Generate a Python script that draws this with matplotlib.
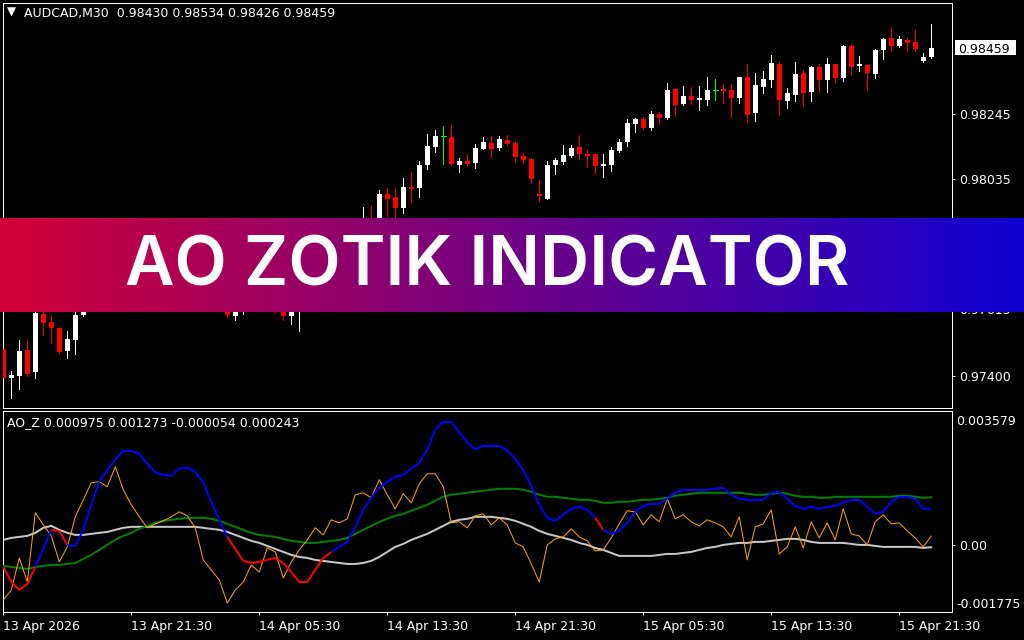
import numpy as np
import matplotlib
matplotlib.use('Agg')
import matplotlib.pyplot as plt
from matplotlib.collections import LineCollection
from matplotlib.patches import Rectangle

# AUDCAD M30 candles (13 Apr 2026 13:30 ... 15 Apr 23:30)
opens = [0.97486, 0.97392, 0.97399, 0.97482, 0.97411, 0.97599, 0.97573, 0.97554, 0.97479, 0.97515,
         0.97596, 0.97692, 0.97767, 0.97741, 0.97822, 0.97844, 0.97812, 0.97838, 0.97864, 0.97822,
         0.97851, 0.97806, 0.97767, 0.97786, 0.97725, 0.97747, 0.97692, 0.97660, 0.97644, 0.97592,
         0.97605, 0.97628, 0.97644, 0.97657, 0.97631, 0.97625, 0.97592, 0.97612, 0.97644, 0.97692,
         0.97741, 0.97767, 0.97806, 0.97786, 0.97838, 0.97870, 0.97896, 0.97890, 0.97986, 0.97977,
         0.97941, 0.98009, 0.98006, 0.98080, 0.98138, 0.98174, 0.98171, 0.98080, 0.98093, 0.98086,
         0.98132, 0.98151, 0.98135, 0.98161, 0.98151, 0.98109, 0.98099, 0.97986, 0.97970, 0.98080,
         0.98090, 0.98109, 0.98138, 0.98116, 0.98116, 0.98077, 0.98080, 0.98125, 0.98154, 0.98212,
         0.98229, 0.98200, 0.98245, 0.98232, 0.98326, 0.98277, 0.98303, 0.98290, 0.98290, 0.98322,
         0.98326, 0.98322, 0.98296, 0.98364, 0.98248, 0.98332, 0.98355, 0.98406, 0.98287, 0.98306,
         0.98377, 0.98316, 0.98397, 0.98355, 0.98406, 0.98361, 0.98464, 0.98400, 0.98403, 0.98374,
         0.98452, 0.98490, 0.98464, 0.98484, 0.98477, 0.98416, 0.98430]
highs = [0.97515, 0.97415, 0.97515, 0.97515, 0.97618, 0.97615, 0.97596, 0.97557, 0.97544, 0.97605,
         0.97709, 0.97789, 0.97806, 0.97838, 0.97877, 0.97864, 0.97854, 0.97886, 0.97877, 0.97870,
         0.97864, 0.97825, 0.97806, 0.97799, 0.97767, 0.97757, 0.97709, 0.97683, 0.97657, 0.97628,
         0.97650, 0.97670, 0.97683, 0.97676, 0.97650, 0.97638, 0.97631, 0.97657, 0.97702, 0.97754,
         0.97786, 0.97818, 0.97825, 0.97851, 0.97883, 0.97944, 0.97948, 0.97999, 0.98006, 0.98003,
         0.98038, 0.98057, 0.98093, 0.98180, 0.98193, 0.98206, 0.98209, 0.98103, 0.98116, 0.98148,
         0.98171, 0.98174, 0.98174, 0.98177, 0.98158, 0.98119, 0.98103, 0.98032, 0.98093, 0.98103,
         0.98145, 0.98145, 0.98177, 0.98129, 0.98116, 0.98116, 0.98138, 0.98164, 0.98229, 0.98232,
         0.98235, 0.98254, 0.98251, 0.98345, 0.98326, 0.98335, 0.98332, 0.98335, 0.98364, 0.98358,
         0.98342, 0.98342, 0.98364, 0.98406, 0.98377, 0.98384, 0.98435, 0.98413, 0.98329, 0.98413,
         0.98387, 0.98400, 0.98406, 0.98426, 0.98406, 0.98468, 0.98468, 0.98432, 0.98403, 0.98455,
         0.98490, 0.98526, 0.98497, 0.98490, 0.98516, 0.98442, 0.98534]
lows = [0.97386, 0.97327, 0.97357, 0.97399, 0.97392, 0.97531, 0.97505, 0.97473, 0.97457, 0.97470,
        0.97592, 0.97676, 0.97725, 0.97715, 0.97799, 0.97789, 0.97780, 0.97818, 0.97806, 0.97799,
        0.97786, 0.97747, 0.97741, 0.97709, 0.97702, 0.97670, 0.97644, 0.97625, 0.97589, 0.97579,
        0.97599, 0.97612, 0.97625, 0.97618, 0.97605, 0.97579, 0.97566, 0.97544, 0.97631, 0.97676,
        0.97721, 0.97747, 0.97767, 0.97773, 0.97818, 0.97857, 0.97870, 0.97877, 0.97915, 0.97909,
        0.97925, 0.97961, 0.97977, 0.98067, 0.98122, 0.98083, 0.98080, 0.98057, 0.98077, 0.98070,
        0.98132, 0.98106, 0.98129, 0.98145, 0.98090, 0.98086, 0.98022, 0.97964, 0.97970, 0.98051,
        0.98083, 0.98106, 0.98099, 0.98074, 0.98054, 0.98041, 0.98061, 0.98122, 0.98141, 0.98187,
        0.98196, 0.98193, 0.98212, 0.98229, 0.98238, 0.98274, 0.98277, 0.98258, 0.98274, 0.98290,
        0.98280, 0.98235, 0.98280, 0.98219, 0.98222, 0.98313, 0.98332, 0.98242, 0.98264, 0.98287,
        0.98271, 0.98287, 0.98316, 0.98316, 0.98345, 0.98351, 0.98371, 0.98384, 0.98322, 0.98361,
        0.98422, 0.98448, 0.98461, 0.98448, 0.98448, 0.98413, 0.98426]
closes = [0.97392, 0.97402, 0.97479, 0.97405, 0.97602, 0.97570, 0.97554, 0.97476, 0.97518, 0.97596,
          0.97692, 0.97767, 0.97741, 0.97822, 0.97844, 0.97812, 0.97838, 0.97864, 0.97822, 0.97851,
          0.97806, 0.97767, 0.97786, 0.97725, 0.97747, 0.97692, 0.97660, 0.97644, 0.97596, 0.97605,
          0.97628, 0.97644, 0.97657, 0.97631, 0.97625, 0.97592, 0.97612, 0.97644, 0.97692, 0.97741,
          0.97767, 0.97806, 0.97786, 0.97838, 0.97870, 0.97896, 0.97890, 0.97986, 0.97970, 0.97941,
          0.98009, 0.98003, 0.98080, 0.98141, 0.98174, 0.98174, 0.98083, 0.98093, 0.98083, 0.98135,
          0.98154, 0.98132, 0.98164, 0.98148, 0.98106, 0.98096, 0.98035, 0.97980, 0.98080, 0.98096,
          0.98112, 0.98135, 0.98116, 0.98109, 0.98077, 0.98083, 0.98129, 0.98154, 0.98216, 0.98229,
          0.98200, 0.98245, 0.98232, 0.98322, 0.98274, 0.98303, 0.98290, 0.98296, 0.98322, 0.98322,
          0.98319, 0.98296, 0.98364, 0.98242, 0.98338, 0.98358, 0.98410, 0.98290, 0.98313, 0.98374,
          0.98313, 0.98397, 0.98355, 0.98406, 0.98361, 0.98464, 0.98397, 0.98406, 0.98377, 0.98452,
          0.98487, 0.98464, 0.98487, 0.98474, 0.98455, 0.98429, 0.98459]

# AO_Z buffers, in units of 1e-6
ao_e6 = [-578, -978, -1191, -1031, -578, -99, 408, 381, 8, -19,
         408, 1074, 1686, 2006, 2272, 2512, 2512, 2432, 2166, 1926,
         1873, 1846, 2033, 2059, 1953, 1660, 1154, 674, 221, -99,
         -418, -472, -445, -392, -338, -472, -711, -978, -978, -658,
         -338, -178, -45, 88, 488, 940, 1260, 1526, 1686, 1820,
         1873, 2033, 2192, 2539, 3072, 3285, 3285, 2992, 2725, 2539,
         2645, 2645, 2645, 2512, 2299, 2006, 1580, 1074, 727, 647,
         807, 967, 1020, 940, 727, 408, 301, 381, 594, 887,
         1047, 1100, 1100, 1233, 1393, 1473, 1473, 1473, 1473, 1500,
         1526, 1340, 1233, 1207, 1207, 1207, 1393, 1420, 1233, 1047,
         967, 1020, 967, 1020, 1047, 1127, 1207, 1207, 1020, 834,
         887, 1154, 1287, 1287, 1233, 967, 975]
# bars where the AO line is painted red
ao_red = [0, 1, 2, 3, 4, 6, 7, 8, 28, 29, 30, 31, 32, 33, 34, 35, 36, 37, 38, 39, 40, 41, 74, 75]
green_e6 = [-551, -578, -605, -631, -578, -551, -525, -525, -498, -472,
            -365, -258, -125, 8, 141, 248, 328, 434, 514, 594,
            647, 674, 701, 727, 727, 727, 701, 647, 567, 488,
            408, 328, 274, 248, 221, 168, 115, 88, 61, 61,
            88, 115, 141, 194, 301, 408, 514, 621, 701, 781,
            834, 914, 994, 1074, 1180, 1287, 1340, 1367, 1393, 1420,
            1447, 1473, 1500, 1500, 1500, 1473, 1420, 1340, 1287, 1287,
            1260, 1233, 1207, 1207, 1180, 1127, 1127, 1154, 1154, 1180,
            1207, 1207, 1233, 1260, 1313, 1340, 1367, 1393, 1393, 1393,
            1393, 1393, 1393, 1367, 1340, 1340, 1367, 1393, 1367, 1313,
            1287, 1287, 1260, 1260, 1287, 1287, 1287, 1287, 1287, 1287,
            1287, 1287, 1313, 1313, 1287, 1260, 1273]
gray_e6 = [141, 194, 221, 248, 328, 461, 514, 408, 328, 274,
           274, 301, 328, 354, 408, 461, 488, 488, 488, 488,
           488, 488, 488, 488, 488, 461, 434, 408, 354, 274,
           194, 115, 61, -19, -99, -178, -258, -312, -338, -392,
           -418, -445, -472, -498, -498, -472, -418, -312, -178, -45,
           35, 141, 221, 301, 408, 514, 621, 674, 701, 754,
           754, 754, 727, 701, 647, 567, 488, 381, 301, 248,
           194, 141, 61, 8, -72, -125, -205, -285, -285, -285,
           -285, -285, -258, -232, -232, -205, -178, -125, -72, -45,
           8, 35, 61, 61, 88, 88, 115, 141, 168, 168,
           141, 88, 61, 61, 61, 61, 35, 8, 8, -19,
           -45, -45, -45, -45, -45, -72, -54]
orange_e6 = [-1457, -1191, -338, -978, 860, 541, 248, -445, -45, 754,
             1207, 1660, 1686, 1553, 2086, 1473, 1074, 754, 461, 567,
             647, 754, 887, 781, 461, -392, -658, -924, -1537, -1191,
             -978, -525, -711, -72, -178, -871, -445, -125, 141, 461,
             274, 674, 594, 701, 1340, 1393, 1260, 1740, 1340, 967,
             1367, 1127, 1633, 1899, 1899, 1553, 594, 621, 461, 781,
             834, 541, 727, 541, 61, -45, -498, -978, 8, 168,
             221, 434, 221, 115, -152, -125, 194, 567, 914, 887,
             541, 807, 621, 1233, 701, 807, 621, 514, 674, 594,
             488, 221, 754, -392, 488, 567, 940, -232, -45, 488,
             -72, 621, 194, 594, 141, 967, 301, 248, 8, 621,
             807, 567, 594, 381, 194, -45, 243]

price_ticks = [0.98245, 0.98035, 0.97825, 0.97615, 0.97400]
ind_min, ind_max = -0.001775, 0.003579
time_ticks = [0, 16, 32, 48, 64, 80, 96, 112]
time_labels = ['13 Apr 2026', '13 Apr 21:30', '14 Apr 05:30', '14 Apr 13:30',
               '14 Apr 21:30', '15 Apr 05:30', '15 Apr 13:30', '15 Apr 21:30']

W, H = 1024, 640
PX = 0.72  # one pixel in points at dpi 100
plt.rcParams['font.family'] = ['DejaVu Sans']

fig = plt.figure(figsize=(W / 100, H / 100), dpi=100, facecolor='black')

def fx(p):
    return p / W

def fy(p):
    return 1 - p / H

ax = fig.add_axes([fx(2.5), fy(407.5), (952 - 2.5) / W, (407.5 - 2.5) / H])
ax2 = fig.add_axes([fx(2.5), fy(612), (952 - 2.5) / W, (612 - 410.5) / H])

for a in (ax, ax2):
    a.set_facecolor('black')
    for s in a.spines.values():
        s.set_color('white')
        s.set_linewidth(PX)
    a.set_xlim(-0.1, 118.6)
    a.yaxis.tick_right()
    a.tick_params(colors='white', labelsize=9, length=3 * PX, width=PX, pad=3)

# --- candles ---
o = np.array(opens); h = np.array(highs); l = np.array(lows); c = np.array(closes)
x = np.arange(len(o))
up = c > o
dn = c < o
dj = c == o
wick_col = np.where(up, 'white', np.where(dn, '#ff0000', '#00ff00'))
ax.vlines(x, l, h, colors=list(wick_col), linewidth=PX, antialiased=False, zorder=2)
bw = 0.62
min_h = 0.00003
ax.bar(x[up], np.maximum(c[up] - o[up], min_h), bottom=o[up], width=bw,
       color='white', linewidth=0, antialiased=False, zorder=3)
ax.bar(x[dn], -np.maximum(o[dn] - c[dn], min_h), bottom=o[dn], width=bw,
       color='#ff0000', linewidth=0, antialiased=False, zorder=3)
ax.hlines(c[dj], x[dj] - bw / 2, x[dj] + bw / 2, colors='#00ff00', linewidth=PX,
          antialiased=False, zorder=3)

ax.set_ylim(0.97297, 0.98605)
ax.set_xticks([])
ax.set_yticks(price_ticks)
ax.set_yticklabels(['%.5f' % p for p in price_ticks])

# current price marker on the right scale
last = closes[-1]
ypix = ax.transData.transform((0, last))[1]
fig.patches.append(Rectangle((fx(954.5), (ypix - 7) / H), 61.5 / W, 14.5 / H,
                             transform=fig.transFigure, facecolor='white', edgecolor='none'))
fig.text(fx(958.5), ypix / H, '%.5f' % last, color='black', fontsize=9, va='center_baseline')

fig.text(fx(11), fy(12.5), '\u25bc', color='white', fontsize=8.5, ha='center', va='center')
fig.text(fx(24), fy(14), 'AUDCAD,M30  %.5f %.5f %.5f %.5f' % (opens[-1], highs[-1], lows[-1], closes[-1]),
         color='white', fontsize=9, va='center')

# --- AO_Z sub window ---
ao = np.array(ao_e6) * 1e-6
green = np.array(green_e6) * 1e-6
gray = np.array(gray_e6) * 1e-6
orange = np.array(orange_e6) * 1e-6

ax2.plot(x, gray, color='#c8c8c8', linewidth=2 * PX, zorder=2)
ax2.plot(x, green, color='#008000', linewidth=2 * PX, zorder=3)
ax2.plot(x, orange, color='#ffa500', linewidth=PX, zorder=4)
red_pt = np.zeros(len(x), bool)
red_pt[ao_red] = True
pts = np.column_stack([x, ao])
segs = np.stack([pts[:-1], pts[1:]], axis=1)
seg_col = ['#ff0000' if (red_pt[i] and red_pt[i + 1]) else '#0000ff' for i in range(len(x) - 1)]
ax2.add_collection(LineCollection(segs, colors=seg_col, linewidths=2 * PX, zorder=5))

ax2.set_ylim(ind_min, ind_max)
ax2.set_yticks([0.0])
ax2.set_yticklabels(['0.00'])
ax2.annotate('%.6f' % ind_max, xy=(1, 1), xycoords='axes fraction', xytext=(4, -11),
             textcoords='offset pixels', color='white', fontsize=9, va='center')
ax2.annotate('%.6f' % ind_min, xy=(1, 0), xycoords='axes fraction', xytext=(4, 8),
             textcoords='offset pixels', color='white', fontsize=9, va='center')
ax2.set_xticks(time_ticks)
ax2.set_xticklabels(time_labels)
for t in ax2.get_xticklabels():
    t.set_ha('left')
ax2.tick_params(axis='x', pad=3.5)
fig.text(fx(7), fy(423), 'AO_Z %.6f %.6f %.6f %.6f' % (ao[-1], green[-1], gray[-1], orange[-1]),
         color='white', fontsize=9, va='center')

# --- title banner ---
bax = fig.add_axes([0, fy(311.7), 1, (311.7 - 218.3) / H], zorder=5)
left = np.array([210, 0, 55]) / 255
right = np.array([15, 0, 210]) / 255
t = np.linspace(0, 1, 512)[:, None]
grad = (left + t * (right - left))[None, :, :]
bax.imshow(grad, aspect='auto', extent=[0, 1, 0, 1])
bax.axis('off')
fig.text(fx(487), fy(285.5), 'AO ZOTIK INDICATOR', color='white', fontsize=49,
         family='Inter', weight='semibold', ha='center', va='baseline', zorder=6)

fig.savefig('out.png', dpi=100, facecolor='black')
